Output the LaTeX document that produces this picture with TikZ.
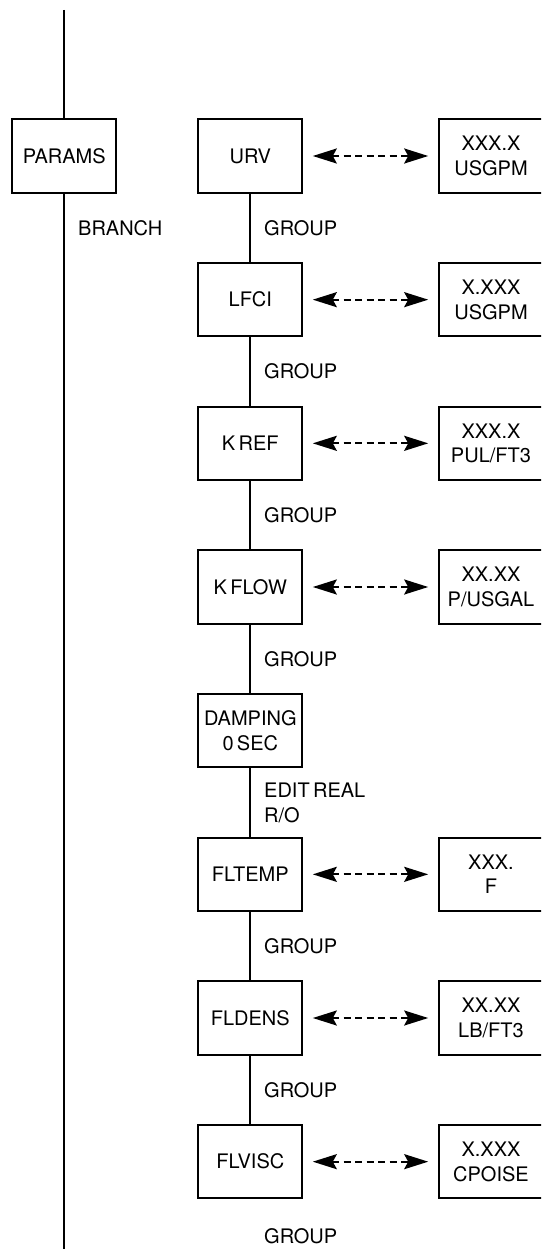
\documentclass[tikz,border=0pt]{standalone}
\usepackage{fontspec}
\setmainfont{TeX Gyre Heros}
\usetikzlibrary{arrows.meta}
\tikzset{
  box/.style={draw, line width=2.2pt, minimum width=104pt, minimum height=73.4pt, inner sep=0pt, align=center, font=\fontsize{20}{24.5}\selectfont},
  lbl/.style={anchor=west, inner sep=0pt, align=left, font=\fontsize{20}{25}\selectfont},
  link/.style={line width=2.2pt},
  tip/.style={},
  dblarrow/.style={line width=2.2pt, dash pattern=on 7pt off 4.5pt,
    {Stealth[length=24pt,width=15pt,inset=4pt]}-{Stealth[length=24pt,width=15pt,inset=4pt]},
    shorten <=9.4pt, shorten >=9.7pt}
}
\begin{document}
\begin{tikzpicture}[x=1pt,y=-1pt]
\useasboundingbox (0,0) rectangle (541,1249);
\clip (0,0) rectangle (541,1249);
% branch column
\coordinate (top) at (64.3,10);
\coordinate (bot) at (64.3,1252);
\node[box] (params) at (64.3,156) {PARAMS};
\draw[link] (top) -- (params.north);
\draw[link] (params.south) -- (bot);
\node[lbl] (branch) at (78,228) {BRANCH};
% group column
\node[box] (urv)  at (250.3,156)    {URV};
\node[box] (lfci) at (250.3,299.67) {LFCI};
\node[box] (kref) at (250.3,443.33) {K\,REF};
\node[box] (kflow) at (250.3,587)   {K\,FLOW};
\node[box] (damp) at (250.3,730.67) {DAMPING\\0\,SEC};
\node[box] (fltemp) at (250.3,874.33) {FLTEMP};
\node[box] (fldens) at (250.3,1018) {FLDENS};
\node[box] (flvisc) at (250.3,1161.67) {FLVISC};
\draw[link] (urv) -- (lfci);
\draw[link] (lfci) -- (kref);
\draw[link] (kref) -- (kflow);
\draw[link] (kflow) -- (damp);
\draw[link] (damp) -- (fltemp);
\draw[link] (fltemp) -- (fldens);
\draw[link] (fldens) -- (flvisc);
\node[lbl] (g1) at (264,228) {GROUP};
\node[lbl] (g2) at (264,371.67) {GROUP};
\node[lbl] (g3) at (264,515.33) {GROUP};
\node[lbl] (g4) at (264,659) {GROUP};
\node[lbl] (g5) at (264,803.3) {EDIT\,REAL\\R/O};
\node[lbl] (g6) at (264,946.33) {GROUP};
\node[lbl] (g7) at (264,1090) {GROUP};
\node[lbl] (g8) at (264,1236) {GROUP};
% value column
\node[box] (v1) at (491,156)    {XXX.X\\USGPM};
\node[box] (v2) at (491,299.67) {X.XXX\\USGPM};
\node[box] (v3) at (491,443.33) {XXX.X\\PUL/FT3};
\node[box] (v4) at (491,587)    {XX.XX\\P/USGAL};
\node[box] (v6) at (491,874.33) {XXX.\\F};
\node[box] (v7) at (491,1018)   {XX.XX\\LB/FT3};
\node[box] (v8) at (491,1161.67) {X.XXX\\CPOISE};
\draw[dblarrow] (urv.east) -- (v1.west);
\draw[dblarrow] (lfci.east) -- (v2.west);
\draw[dblarrow] (kref.east) -- (v3.west);
\draw[dblarrow] (kflow.east) -- (v4.west);
\draw[dblarrow] (fltemp.east) -- (v6.west);
\draw[dblarrow] (fldens.east) -- (v7.west);
\draw[dblarrow] (flvisc.east) -- (v8.west);
\end{tikzpicture}
\end{document}
